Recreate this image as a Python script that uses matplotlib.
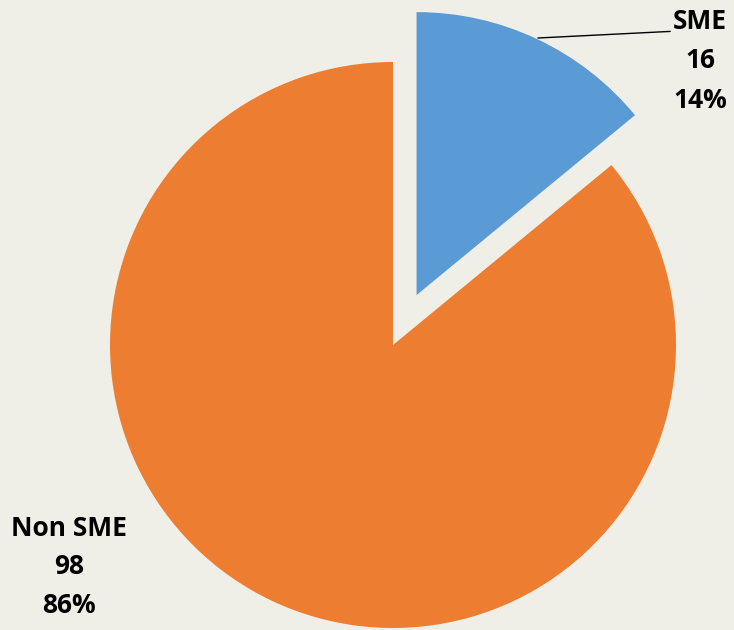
import numpy as np
import matplotlib
matplotlib.use("Agg")
import matplotlib.pyplot as plt

labels = ["SME", "Non SME"]
values = [16, 98]
colors = ["#5B9BD5", "#ED7D31"]
explode = [0.195, 0]

bg = "#F0EFE7"
fig = plt.figure(figsize=(7.34, 6.30), dpi=100, facecolor=bg)
ax = fig.add_axes([0, 0, 1, 1])
ax.set_facecolor(bg)

total = sum(values)
ax.pie(values, colors=colors, explode=explode, startangle=90, counterclock=False,
       radius=1.0, wedgeprops=dict(linewidth=0))

# pixel -> data mapping: centre (393,345), radius 283 px
cx, cy, r = 393, 345, 283
ax.set_xlim((0 - cx) / r, (734 - cx) / r)
ax.set_ylim((cy - 630) / r, (cy - 0) / r)
ax.set_aspect("equal")
ax.axis("off")

def px(x, y):
    return ((x - cx) / r, (cy - y) / r)

pcts = [round(v / total * 100) for v in values]
txt = [f"{l}\n{v}\n{p}%" for l, v, p in zip(labels, values, pcts)]

ax.annotate(txt[0], xy=px(538, 38), xytext=px(700, 61), ha="center", va="center",
            fontsize=19, fontweight="bold", family="Open Sans", linespacing=1.6,
            arrowprops=dict(arrowstyle="-", color="black", lw=1,
                            shrinkA=0, shrinkB=0, relpos=(0, 0.78)))
ax.text(*px(69, 567), txt[1], ha="center", va="center",
        fontsize=19, fontweight="bold", family="Open Sans", linespacing=1.55)

fig.savefig("out.png", dpi=100, facecolor=bg)
